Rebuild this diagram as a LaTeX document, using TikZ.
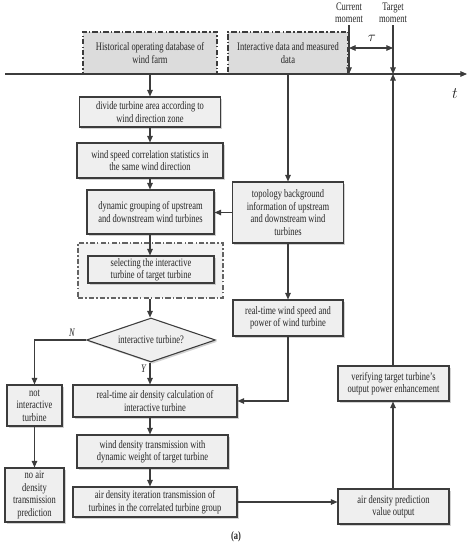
\documentclass[tikz,border=0pt]{standalone}
\usepackage{fontspec}
\setmainfont{Liberation Serif}[FakeStretch=0.74]
\usetikzlibrary{arrows.meta,shapes.geometric,shadows}
\definecolor{lc}{HTML}{3C3C3C}
\definecolor{bfill}{HTML}{EFEFEF}
\definecolor{dfill}{HTML}{DCDCDC}
\definecolor{gfill}{HTML}{F3F3F3}
\tikzset{
  every node/.style={font=\fontsize{8.6}{9.3}\selectfont, text=black!85},
  box/.style={draw=lc, line width=0.8pt, fill=bfill, align=center, inner sep=1pt,
    drop shadow={shadow xshift=1.3pt, shadow yshift=-1.3pt, fill=black!35, opacity=0.5}},
  ddot/.style={dash pattern=on 4pt off 1.6pt on 1pt off 1.6pt},
  dbox/.style={draw=lc, line width=0.8pt, ddot, fill=dfill, align=center, inner sep=1pt},
  gbox/.style={draw=lc!80, line width=0.8pt, ddot, fill=gfill, inner sep=0pt},
  arr/.style={draw=lc, line width=0.8pt, -{Triangle[length=5pt,width=4.2pt]}},
  ln/.style={draw=lc, line width=0.8pt},
  lbl/.style={font=\fontsize{8.6}{9.3}\selectfont\itshape, inner sep=0pt},
}
\begin{document}
\begin{tikzpicture}[x=0.75pt,y=-0.75pt]
\useasboundingbox (0,0) rectangle (471,550);
% timeline
\coordinate (tl0) at (5,74);
\coordinate (tl1) at (467,74);
\coordinate (cur) at (349,25);
\coordinate (tar) at (393,25);
% top boxes
\node[dbox, minimum width=100.5pt, minimum height=31.5pt] (hist) at (150,53) {Historical operating database of\\wind farm};
\node[dbox, minimum width=90pt, minimum height=31.5pt] (inter) at (288,53) {Interactive data and measured\\data};
\draw[arr] (tl0) -- (tl1);
\node[inner sep=0pt] (tlab) at (455,94) {\fontsize{13}{13}\selectfont$t$};
\node[align=center, inner sep=0pt] (curt) at (349,13) {Current\\moment};
\node[align=center, inner sep=0pt] (tart) at (393,13) {Target\\moment};
\draw[arr] (cur) -- (cur |- tl0);
\draw[arr] (tar) -- (tar |- tl0);
\coordinate (tau0) at (349,48);
\coordinate (tau1) at (393,48);
\draw[ln, {Triangle[length=5pt,width=4.2pt]}-{Triangle[length=5pt,width=4.2pt]}] (tau0) -- (tau1);
\node[inner sep=0pt] (taul) at (372,38) {\fontsize{11}{11}\selectfont$\tau$};
% left column
\node[box, minimum width=105.75pt, minimum height=22.5pt] (divide) at (150,112) {divide turbine area according to\\wind direction zone};
\node[box, minimum width=109.5pt, minimum height=26.25pt] (wscorr) at (150,160.5) {wind speed correlation statistics in\\the same wind direction};
\node[box, minimum width=95.25pt, minimum height=33pt] (dyn) at (150.5,212) {dynamic grouping of upstream\\and downstream wind turbines};
\node[gbox, minimum width=108.75pt, minimum height=41.25pt] (group) at (150.5,270.5) {};
\node[box, minimum width=94.5pt, minimum height=20.25pt] (sel) at (151,269.5) {selecting the interactive\\turbine of target turbine};
\node[box, diamond, aspect=2.93, inner sep=0pt, minimum width=96.75pt, minimum height=33pt] (dia) at (151,340) {interactive turbine?};
\node[box, minimum width=41.25pt, minimum height=30.75pt] (notint) at (34.5,405.5) {not\\interactive\\turbine};
\node[box, minimum width=44.25pt, minimum height=40.5pt] (noair) at (34.5,495) {no air\\density\\transmission\\prediction};
\node[box, minimum width=123pt, minimum height=24pt] (rtad) at (155,401) {real-time air density calculation of\\interactive turbine};
\node[box, minimum width=113.25pt, minimum height=24.75pt] (wdt) at (152.5,451.5) {wind density transmission with\\dynamic weight of target turbine};
\node[box, minimum width=123pt, minimum height=22.5pt] (iter) at (155,502) {air density iteration transmission of\\turbines in the correlated turbine group};
% middle column
\node[box, minimum width=83.25pt, minimum height=45.75pt] (topo) at (288,212.5) {topology background\\information of upstream\\and downstream wind\\turbines};
\node[box, minimum width=82.5pt, minimum height=27pt] (rtws) at (288,318) {real-time wind speed and\\power of wind turbine};
% right column
\node[box, minimum width=83.25pt, minimum height=26.25pt] (verif) at (393.5,383.5) {verifying target turbine's\\output power enhancement};
\node[box, minimum width=83.25pt, minimum height=26.25pt] (pred) at (393.5,506.5) {air density prediction\\value output};
% connectors
\draw[arr] (hist.south -| divide.north) -- (divide.north);
\draw[arr] (divide.south) -- (wscorr.north);
\draw[arr] (wscorr.south) -- (dyn.north -| wscorr.south);
\draw[arr] (dyn.south -| wscorr.south) -- (sel.north -| wscorr.south);
\draw[arr] (group.south -| wscorr.south) -- (dia.north -| wscorr.south);
\draw[arr] (inter.south) -- (topo.north);
\draw[arr] (topo.west) -- (topo.west -| dyn.east);
\draw[arr] (topo.south) -- (rtws.north);
\draw[arr] (dia.west) -| (notint.north);
\node[lbl, anchor=south] (nlab) at (72,337) {N};
\draw[arr] (dia.south -| wscorr.south) -- (rtad.north -| wscorr.south);
\node[lbl, anchor=east] (ylab) at (146,369) {Y};
\draw[arr] (notint.south) -- (noair.north);
\draw[arr] (rtws.south) |- (rtad.east);
\draw[arr] (rtad.south -| wscorr.south) -- (wdt.north -| wscorr.south);
\draw[arr] (wdt.south -| wscorr.south) -- (iter.north -| wscorr.south);
\draw[arr] (iter.east) -- (iter.east -| pred.west);
\draw[arr] (pred.north -| tar) -- (verif.south -| tar);
\draw[arr] (verif.north -| tar) -- (tar |- tl0);
\node[font=\fontsize{8.6}{9}\selectfont\bfseries] (cap) at (236,537) {(a)};
\end{tikzpicture}
\end{document}
